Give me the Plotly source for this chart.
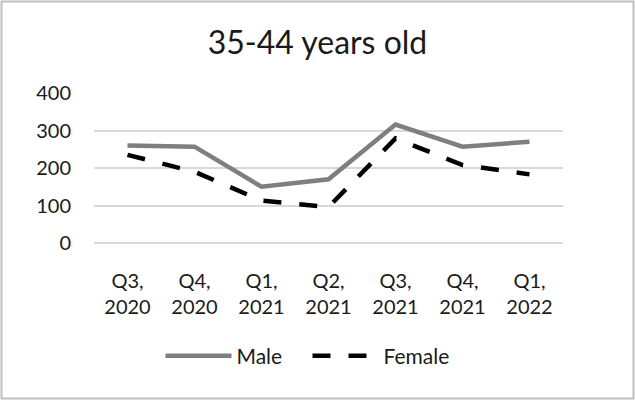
import plotly.graph_objects as go

categories = ["Q3,<br>2020", "Q4,<br>2020", "Q1,<br>2021", "Q2,<br>2021",
              "Q3,<br>2021", "Q4,<br>2021", "Q1,<br>2022"]
male = [260, 257, 150, 170, 316, 257, 270]
female = [235, 190, 113, 96, 279, 208, 183]
y_ticks = [0, 100, 200, 300, 400]

W, H = 635, 400
ml, mr, mt, mb = 94, 72, 93, 157
pw, ph = W - ml - mr, H - mt - mb

font_family = "Lato, 'Open Sans', sans-serif"

fig = go.Figure()
fig.add_trace(go.Scatter(x=categories, y=male, name="Male", mode="lines",
                         line=dict(color="#7f7f7f", width=4.5)))
fig.add_trace(go.Scatter(x=categories, y=female, name="Female", mode="lines",
                         line=dict(color="#000000", width=4.5, dash="18px,18px")))

fig.update_layout(
    width=W, height=H,
    margin=dict(l=ml, r=mr, t=mt, b=mb, autoexpand=False),
    paper_bgcolor="white", plot_bgcolor="white",
    font=dict(family=font_family, size=20, color="#1a1a1a"),
    title=dict(text="35-44 years old", x=0.5, xanchor="center",
               y=1 - 43 / H, yanchor="middle",
               font=dict(family=font_family, size=32, color="#1a1a1a")),
    showlegend=True,
    legend=dict(orientation="h", x=0.5 - 10 / W, xanchor="center", xref="container",
                y=(H - 356) / H, yref="container",
                yanchor="middle", itemwidth=66, entrywidth=66,
                font=dict(size=21), bgcolor="rgba(0,0,0,0)"),
    xaxis=dict(range=[-0.5, 6.5], showgrid=False, showline=False, zeroline=False,
               automargin=False,
               ticks="outside", ticklen=20, tickcolor="rgba(0,0,0,0)",
               tickfont=dict(size=20)),
    yaxis=dict(range=[0, 400], tickvals=y_ticks, showgrid=True, automargin=False,
               gridcolor="#d9d9d9", gridwidth=1.5, zeroline=True,
               zerolinecolor="#d9d9d9", zerolinewidth=1.5, showline=False,
               ticks="outside", ticklen=18, tickcolor="rgba(0,0,0,0)",
               tickfont=dict(size=20)),
    shapes=[dict(type="rect", xref="paper", yref="paper",
                 x0=(-ml + 1.5) / pw, x1=(pw + mr - 1.5) / pw,
                 y0=(-mb + 1.5) / ph, y1=(ph + mt - 1.5) / ph,
                 line=dict(color="#bfbfbf", width=2), layer="below")],
)

fig.write_html("out.html", config={"displayModeBar": False},
               post_script="document.body.style.margin='0';")
